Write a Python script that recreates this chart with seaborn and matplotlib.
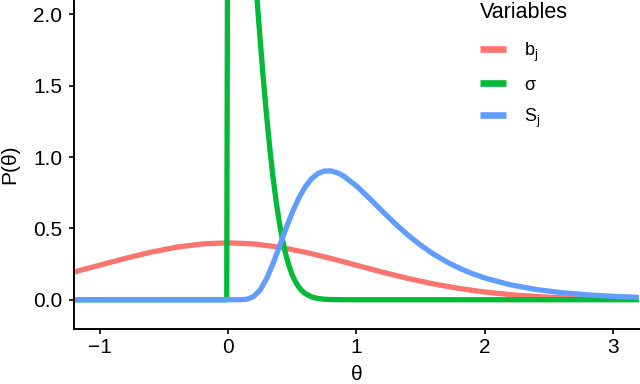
# 先验分布密度曲线：b_j、σ、S_j 三个变量
import pandas as pd
import matplotlib.pyplot as plt
import seaborn as sns

sns.set_style("ticks")
plt.rcParams['font.family'] = ['Liberation Sans', 'DejaVu Sans']
plt.rcParams['mathtext.fontset'] = 'custom'
plt.rcParams['mathtext.rm'] = 'Liberation Sans'
plt.rcParams['axes.unicode_minus'] = True
plt.rcParams['text.color'] = 'black'
plt.rcParams['axes.labelcolor'] = 'black'

# 数据
bj_theta = [-1.2, -1.0, -0.8, -0.6, -0.4, -0.2, 0.0, 0.2, 0.4, 0.6, 0.8, 1.0,
            1.2, 1.4, 1.6, 1.8, 2.0, 2.2, 2.4, 2.6, 2.8, 3.0, 3.2]
bj_p = [0.1942, 0.2420, 0.2897, 0.3332, 0.3683, 0.3910, 0.3989, 0.3910, 0.3683,
        0.3332, 0.2897, 0.2420, 0.1942, 0.1497, 0.1109, 0.0790, 0.0540, 0.0355,
        0.0224, 0.0136, 0.0079, 0.0044, 0.0024]

sigma_theta = [-1.2, -0.01, 0.0, 0.025, 0.05, 0.075, 0.1, 0.125, 0.15, 0.175,
               0.2, 0.225, 0.25, 0.275, 0.3, 0.325, 0.35, 0.375, 0.4, 0.425,
               0.45, 0.475, 0.5, 0.525, 0.55, 0.575, 0.6, 0.65, 0.7, 0.75, 0.8,
               0.9, 1.0, 3.2]
sigma_p = [0.0, 0.0, 3.989, 3.958, 3.866, 3.718, 3.520, 3.281, 3.011, 2.720,
           2.420, 2.119, 1.826, 1.550, 1.295, 1.066, 0.863, 0.688, 0.540, 0.417,
           0.317, 0.238, 0.175, 0.127, 0.091, 0.064, 0.0443, 0.0203, 0.0087,
           0.0035, 0.0013, 0.0001, 0.0, 0.0]

sj_theta = [-1.2, 0.1, 0.15, 0.2, 0.25, 0.3, 0.35, 0.4, 0.45, 0.5, 0.55, 0.6,
            0.65, 0.7, 0.75, 0.8, 0.85, 0.9, 1.0, 1.1, 1.2, 1.3, 1.4, 1.5, 1.6,
            1.7, 1.8, 1.9, 2.0, 2.2, 2.4, 2.6, 2.8, 3.0, 3.2]
sj_p = [0.0, 0.0002, 0.0040, 0.0225, 0.0683, 0.1465, 0.2514, 0.3720, 0.4954,
        0.6104, 0.7098, 0.7891, 0.8469, 0.8837, 0.9016, 0.9028, 0.8904, 0.8670,
        0.7979, 0.7123, 0.6221, 0.5348, 0.4545, 0.3829, 0.3206, 0.2672, 0.2221,
        0.1842, 0.1526, 0.1046, 0.0718, 0.0494, 0.0342, 0.0238, 0.0167]

labels = [r'b$_\mathrm{j}$', 'σ', r'S$_\mathrm{j}$']
colors = ['#F8766D', '#00BA38', '#619CFF']

df = pd.concat([
    pd.DataFrame({'theta': x, 'P': y, 'Variables': lab})
    for x, y, lab in zip([bj_theta, sigma_theta, sj_theta],
                         [bj_p, sigma_p, sj_p], labels)
], ignore_index=True)

fig = plt.figure(figsize=(6.4, 3.84), dpi=100)
ax = fig.add_axes([74 / 640, 55 / 384, 566 / 640, 329 / 384])

sns.lineplot(data=df, x='theta', y='P', hue='Variables', hue_order=labels,
             palette=colors, linewidth=3.8, estimator=None, sort=False,
             solid_capstyle='butt', ax=ax)

ax.set_xlim(-1.2, 3.21)
ax.set_ylim(-0.205, 2.10)
ax.set_xticks([-1, 0, 1, 2, 3])
ax.set_yticks([0.0, 0.5, 1.0, 1.5, 2.0])
ax.set_yticklabels(['0.0', '0.5', '1.0', '1.5', '2.0'])
ax.tick_params(labelsize=15, length=3.6, width=1.2, colors='black', pad=3)
ax.tick_params(axis='y', pad=5)
ax.set_xlabel('θ', fontsize=15, labelpad=5.5)
ax.set_ylabel('P(θ)', fontsize=15, labelpad=10)
sns.despine(ax=ax)
for s in ['left', 'bottom']:
    ax.spines[s].set_linewidth(1.4)
    ax.spines[s].set_color('black')

handles, labs = ax.get_legend_handles_labels()
leg = ax.legend(handles, labs, title='Variables', loc='upper left',
                bbox_to_anchor=(480 / 640, 1 - 2 / 384), bbox_transform=fig.transFigure,
                frameon=False, fontsize=13, title_fontsize=15.5, borderpad=0,
                borderaxespad=0, handlelength=1.45, handletextpad=1.0,
                labelspacing=0.72, alignment='left')
leg._legend_box.sep = 12.5  # 标题与图例条目之间的间距
for h in leg.legend_handles:
    h.set_linewidth(4.8)
    h.set_solid_capstyle('butt')

plt.savefig('out.png', dpi=100)
